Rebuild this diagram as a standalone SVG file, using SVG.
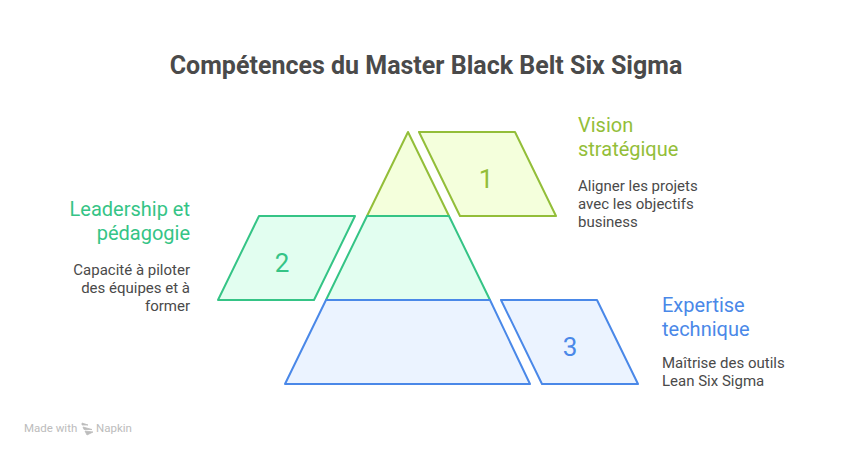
<svg xmlns="http://www.w3.org/2000/svg" width="852" height="456" viewBox="0 0 852 456">
<style>
text{font-family:Roboto,"Liberation Sans",sans-serif}
.t{font-size:25px;font-weight:700;fill:#4a4a4a;text-anchor:middle}
.h{font-size:20px}
.b{font-size:15px;fill:#4a4a4a}
.n{font-size:26px;text-anchor:middle}
.s{stroke-width:2;stroke-linejoin:round}
.g1{fill:#f4ffdc;stroke:#93be39}
.g2{fill:#e2fef0;stroke:#35c486}
.g3{fill:#ebf3ff;stroke:#4a88e8}
.c1{fill:#93be39}.c2{fill:#35c486}.c3{fill:#4a88e8}
.e{text-anchor:end}
.w{font-size:11.500px;fill:#bcbcbc}
</style>
<rect width="852" height="456" fill="#fff"/>
<text class="t" x="426" y="74">Compétences du Master Black Belt Six Sigma</text>
<g id="node-1">
<path class="s g1" d="M408 132L449 216H367Z"/>
<path class="s g1" d="M419 132H515L556 216H460Z"/>
<text class="n c1" x="486" y="188">1</text>
<text class="h c1" x="578" y="132">Vision</text>
<text class="h c1" x="578" y="156">stratégique</text>
<text class="b" x="578" y="191">Aligner les projets</text>
<text class="b" x="578" y="209">avec les objectifs</text>
<text class="b" x="578" y="227">business</text>
</g>
<g id="node-2">
<path class="s g2" d="M367 216H449L490 300H326Z"/>
<path class="s g2" d="M259 216H355L314 300H218Z"/>
<text class="n c2" x="282" y="272">2</text>
<text class="h c2 e" x="190" y="216">Leadership et</text>
<text class="h c2 e" x="190" y="240">pédagogie</text>
<text class="b e" x="190" y="275">Capacité à piloter</text>
<text class="b e" x="190" y="293">des équipes et à</text>
<text class="b e" x="190" y="311">former</text>
</g>
<g id="node-3">
<path class="s g3" d="M326 300H490L530 384H285Z"/>
<path class="s g3" d="M501 300H597L638 384H542Z"/>
<text class="n c3" x="570" y="356">3</text>
<text class="h c3" x="662" y="312">Expertise</text>
<text class="h c3" x="662" y="336">technique</text>
<text class="b" x="662" y="368">Maîtrise des outils</text>
<text class="b" x="662" y="386">Lean Six Sigma</text>
</g>
<g id="connectors"></g>
<g id="watermark">
<text class="w" x="24" y="432">Made with</text>
<path d="M82 423l6 2-6 0zM83 427l9 2.500-8 0zM85 431l8 1-6 3z" fill="#bcbcbc" stroke="#bcbcbc" stroke-width=".8"/>
<text class="w" x="96" y="432">Napkin</text>
</g>
</svg>
